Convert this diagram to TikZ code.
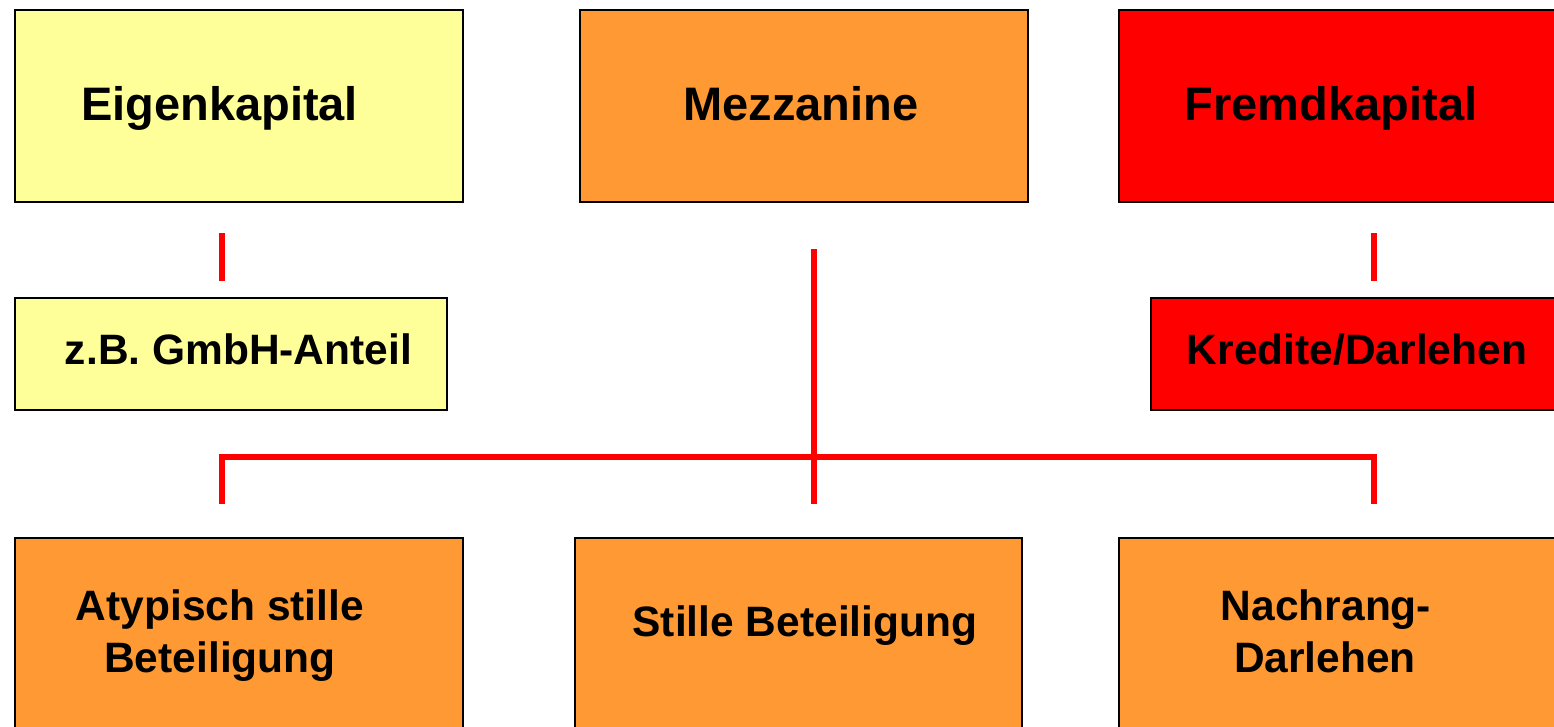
\documentclass[tikz,border=0pt]{standalone}
\usepackage{fontspec}
\setmainfont{Liberation Sans}
\definecolor{ekyellow}{HTML}{FFFF99}
\definecolor{mzorange}{HTML}{FF9933}
\definecolor{fkred}{HTML}{FF0000}
\begin{document}
\begin{tikzpicture}[x=1pt,y=-1pt,
  box/.style={draw=black, line width=2pt, rectangle, inner sep=0pt, anchor=north west},
  bigtxt/.style={font=\bfseries\fontsize{47}{56}\selectfont, anchor=base, inner sep=0pt},
  smalltxt/.style={font=\bfseries\fontsize{42.5}{52}\selectfont, anchor=base, inner sep=0pt},
  link/.style={draw=fkred, line width=6pt, line join=miter}]
\useasboundingbox (0,0) rectangle (1554,726);
\clip (0,0) rectangle (1554,726);
% boxes
\node[box, fill=ekyellow, minimum width=448pt, minimum height=192pt] (ek) at (13.5,8.5) {};
\node[box, fill=mzorange, minimum width=448pt, minimum height=192pt] (mz) at (578.5,8.5) {};
\node[box, fill=fkred, minimum width=450pt, minimum height=192pt] (fk) at (1118,8.5) {};
\node[box, fill=ekyellow, minimum width=432pt, minimum height=112pt] (gm) at (13.5,296.5) {};
\node[box, fill=fkred, minimum width=420pt, minimum height=112pt] (kr) at (1150,296.5) {};
\node[box, fill=mzorange, minimum width=448pt, minimum height=200pt] (at) at (13.5,537) {};
\node[box, fill=mzorange, minimum width=447pt, minimum height=200pt] (st) at (574,537) {};
\node[box, fill=mzorange, minimum width=450pt, minimum height=200pt] (nr) at (1118,537) {};
% texts
\node[bigtxt] (tek) at (219.5,120) {Eigenkapital};
\node[bigtxt] (tmz) at (801,120) {Mezzanine};
\node[bigtxt] (tfk) at (1331,120) {Fremdkapital};
\node[smalltxt] (tgm) at (238.5,364) {z.B. GmbH-Anteil};
\node[smalltxt] (tkr) at (1357,364) {Kredite/Darlehen};
\node[smalltxt] (tat1) at (220,620) {Atypisch stille};
\node[smalltxt] (tat2) at (220,672) {Beteiligung};
\node[smalltxt] (tst) at (805,636) {Stille Beteiligung};
\node[smalltxt] (tnr1) at (1326,620) {Nachrang-};
\node[smalltxt] (tnr2) at (1325,672) {Darlehen};
% connector end points
\coordinate (ekA) at (222,233);
\coordinate (ekB) at (222,281);
\coordinate (fkA) at (1374,233);
\coordinate (fkB) at (1374,281);
\coordinate (mzA) at (814,249);
\coordinate (mzB) at (814,504);
\coordinate (busL) at (222,504);
\coordinate (busLT) at (222,457);
\coordinate (busRT) at (1374,457);
\coordinate (busR) at (1374,504);
% connectors
\draw[link] (ekA) -- (ekB);
\draw[link] (fkA) -- (fkB);
\draw[link] (mzA) -- (mzB);
\draw[link] (busL) -- (busLT) -- (busRT) -- (busR);
\end{tikzpicture}
\end{document}
